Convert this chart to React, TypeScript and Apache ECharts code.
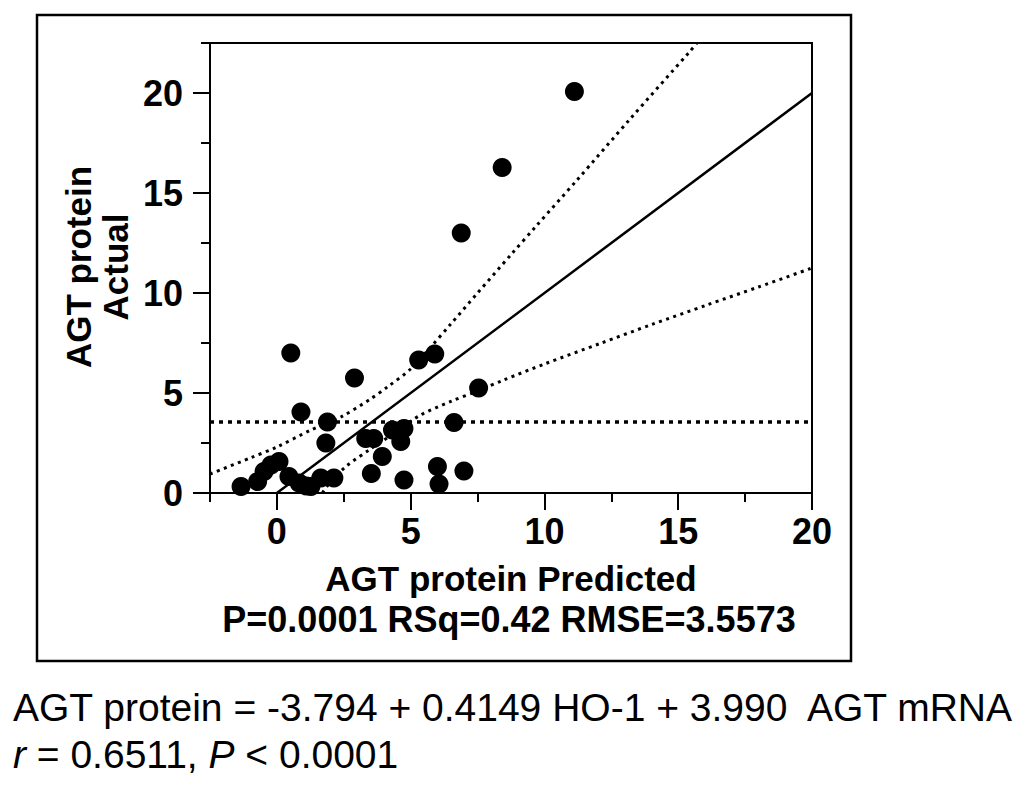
import React, { useEffect, useRef } from "react";
import * as echarts from "echarts";

const FONT = '"Liberation Sans", Arial, Helvetica, sans-serif';

// Tick positions
const xMajorTicks = [0, 5, 10, 15, 20];
const xMinorTicks = [-2.5, 2.5, 7.5, 12.5, 17.5];
const yMajorTicks = [0, 5, 10, 15, 20];
const yMinorTicks = [2.5, 7.5, 12.5, 17.5, 22.5];

// Observed points: predicted (x) vs actual (y)
const predicted = [
  -1.34, -0.72, -0.48, -0.22, 0.08, 0.45, 0.83, 1.1, 1.27, 1.64, 2.13,
  0.52, 0.9, 1.89, 1.83, 2.9, 3.32, 3.62, 3.94, 3.53, 4.32, 4.75, 4.63,
  4.75, 5.3, 5.9, 6.0, 6.06, 6.62, 6.99, 7.54, 6.89, 8.42, 11.12,
];
const actual = [
  0.32, 0.57, 1.07, 1.4, 1.57, 0.82, 0.5, 0.35, 0.32, 0.75, 0.75,
  7.0, 4.05, 3.55, 2.5, 5.75, 2.73, 2.73, 1.82, 0.98, 3.15, 3.23, 2.57,
  0.65, 6.65, 6.95, 1.32, 0.45, 3.52, 1.1, 5.25, 13.0, 16.27, 20.07,
];

// Fit line (actual = predicted)
const fitX = [0, 20];
const fitY = [0, 20];

// Upper confidence curve
const upperX = [-2.5, -1.0, 0.0, 1.27, 2.39, 3.5, 4.13, 5.0, 5.75, 6.5, 7.5, 8.79, 9.66, 11.22, 13.2, 15.45, 15.7];
const upperY = [0.95, 1.75, 2.3, 3.15, 3.8, 4.7, 5.3, 6.2, 7.3, 8.45, 10.0, 11.98, 13.3, 15.65, 18.7, 22.1, 22.5];

// Lower confidence curve
const lowerX = [1.7, 2.0, 2.6, 3.5, 4.5, 5.37, 6.5, 7.5, 8.48, 10.0, 12.09, 14.0, 16.07, 18.0, 20.0];
const lowerY = [0.0, 0.55, 1.35, 2.2, 3.1, 3.9, 4.58, 5.1, 5.65, 6.45, 7.48, 8.42, 9.4, 10.3, 11.25];

// Mean of actual (horizontal dotted line)
const meanX = [-2.5, 20];
const meanValue = 3.55;

const toPairs = (xs: number[], ys: number[]) => xs.map((x, i) => [x, ys[i]]);

export default function App() {
  const ref = useRef<HTMLDivElement>(null);

  useEffect(() => {
    if (!ref.current) return;
    const chart = echarts.init(ref.current, undefined, { renderer: "svg" });

    const axisLineStyle = { color: "#000", width: 2 };
    const labelStyle = {
      color: "#000",
      fontSize: 36,
      fontWeight: "bold" as const,
      fontFamily: FONT,
    };

    const option: any = {
      animation: false,
      backgroundColor: "#fff",
      grid: {
        left: 210,
        top: 43,
        width: 602,
        height: 450,
        show: true,
        borderColor: "#000",
        borderWidth: 2,
        backgroundColor: "transparent",
      },
      xAxis: [
        {
          type: "value",
          min: -2.5,
          max: 20,
          interval: 2.5,
          position: "bottom",
          axisLine: { show: true, onZero: false, lineStyle: axisLineStyle },
          axisTick: { show: true, customValues: xMajorTicks, length: 17, lineStyle: axisLineStyle },
          axisLabel: {
            ...labelStyle,
            customValues: xMajorTicks,
            margin: 20,
            formatter: (v: number) => String(v),
          },
          splitLine: { show: false },
        },
        {
          type: "value",
          min: -2.5,
          max: 20,
          interval: 2.5,
          position: "bottom",
          axisLine: { show: false, onZero: false },
          axisTick: { show: true, customValues: xMinorTicks, length: 9, lineStyle: axisLineStyle },
          axisLabel: { show: false },
          splitLine: { show: false },
        },
      ],
      yAxis: [
        {
          type: "value",
          min: 0,
          max: 22.5,
          interval: 2.5,
          position: "left",
          axisLine: { show: true, onZero: false, lineStyle: axisLineStyle },
          axisTick: { show: true, customValues: yMajorTicks, length: 17, lineStyle: axisLineStyle },
          axisLabel: {
            ...labelStyle,
            customValues: yMajorTicks,
            margin: 27,
            formatter: (v: number) => String(v),
          },
          splitLine: { show: false },
        },
        {
          type: "value",
          min: 0,
          max: 22.5,
          interval: 2.5,
          position: "left",
          axisLine: { show: false, onZero: false },
          axisTick: { show: true, customValues: yMinorTicks, length: 9, lineStyle: axisLineStyle },
          axisLabel: { show: false },
          splitLine: { show: false },
        },
      ],
      series: [
        {
          type: "line",
          data: toPairs(meanX, meanX.map(() => meanValue)),
          symbol: "none",
          lineStyle: { color: "#000", width: 3.5, type: [4, 5] },
          z: 1,
        },
        {
          type: "line",
          data: toPairs(upperX, upperY),
          symbol: "none",
          smooth: 0.3,
          lineStyle: { color: "#000", width: 3, type: [3, 4.5] },
          z: 1,
        },
        {
          type: "line",
          data: toPairs(lowerX, lowerY),
          symbol: "none",
          smooth: 0.3,
          lineStyle: { color: "#000", width: 3, type: [3, 4.5] },
          z: 1,
        },
        {
          type: "line",
          data: toPairs(fitX, fitY),
          symbol: "none",
          lineStyle: { color: "#000", width: 2.5, type: "solid" },
          z: 2,
        },
        {
          type: "scatter",
          data: toPairs(predicted, actual),
          symbol: "circle",
          symbolSize: 19,
          itemStyle: { color: "#000", opacity: 1 },
          z: 3,
        },
      ],
      graphic: [
        {
          type: "rect",
          shape: { x: 37, y: 15, width: 814, height: 646 },
          style: { fill: "none", stroke: "#000", lineWidth: 2.5 },
          silent: true,
        },
        {
          type: "text",
          x: 97,
          y: 267,
          rotation: Math.PI / 2,
          style: {
            text: "AGT protein\nActual",
            fontSize: 35,
            fontWeight: "bold",
            fontFamily: FONT,
            lineHeight: 37,
            align: "center",
            verticalAlign: "middle",
            fill: "#000",
          },
        },
        {
          type: "text",
          x: 511,
          y: 578,
          style: {
            text: "AGT protein Predicted",
            fontSize: 35,
            fontWeight: "bold",
            fontFamily: FONT,
            align: "center",
            verticalAlign: "middle",
            fill: "#000",
          },
        },
        {
          type: "text",
          x: 509,
          y: 619,
          style: {
            text: "P=0.0001 RSq=0.42 RMSE=3.5573",
            fontSize: 36,
            fontWeight: "bold",
            fontFamily: FONT,
            align: "center",
            verticalAlign: "middle",
            fill: "#000",
          },
        },
        {
          type: "text",
          x: 13,
          y: 707,
          style: {
            text: "AGT protein = -3.794 + 0.4149 HO-1 + 3.990\u00a0 AGT mRNA",
            fontSize: 39,
            fontFamily: FONT,
            align: "left",
            verticalAlign: "middle",
            fill: "#000",
          },
        },
        {
          type: "text",
          x: 13,
          y: 754,
          style: {
            text: "{i|r} = 0.6511, {i|P} < 0.0001",
            fontSize: 39,
            fontFamily: FONT,
            align: "left",
            verticalAlign: "middle",
            fill: "#000",
            rich: {
              i: { fontStyle: "italic", fontSize: 39, fontFamily: FONT, fill: "#000" },
            },
          },
        },
      ],
    };

    chart.setOption(option);
    return () => chart.dispose();
  }, []);

  return (
    <div
      ref={ref}
      style={{ position: "absolute", left: 0, top: 0, width: 1024, height: 787, background: "#fff" }}
    />
  );
}
